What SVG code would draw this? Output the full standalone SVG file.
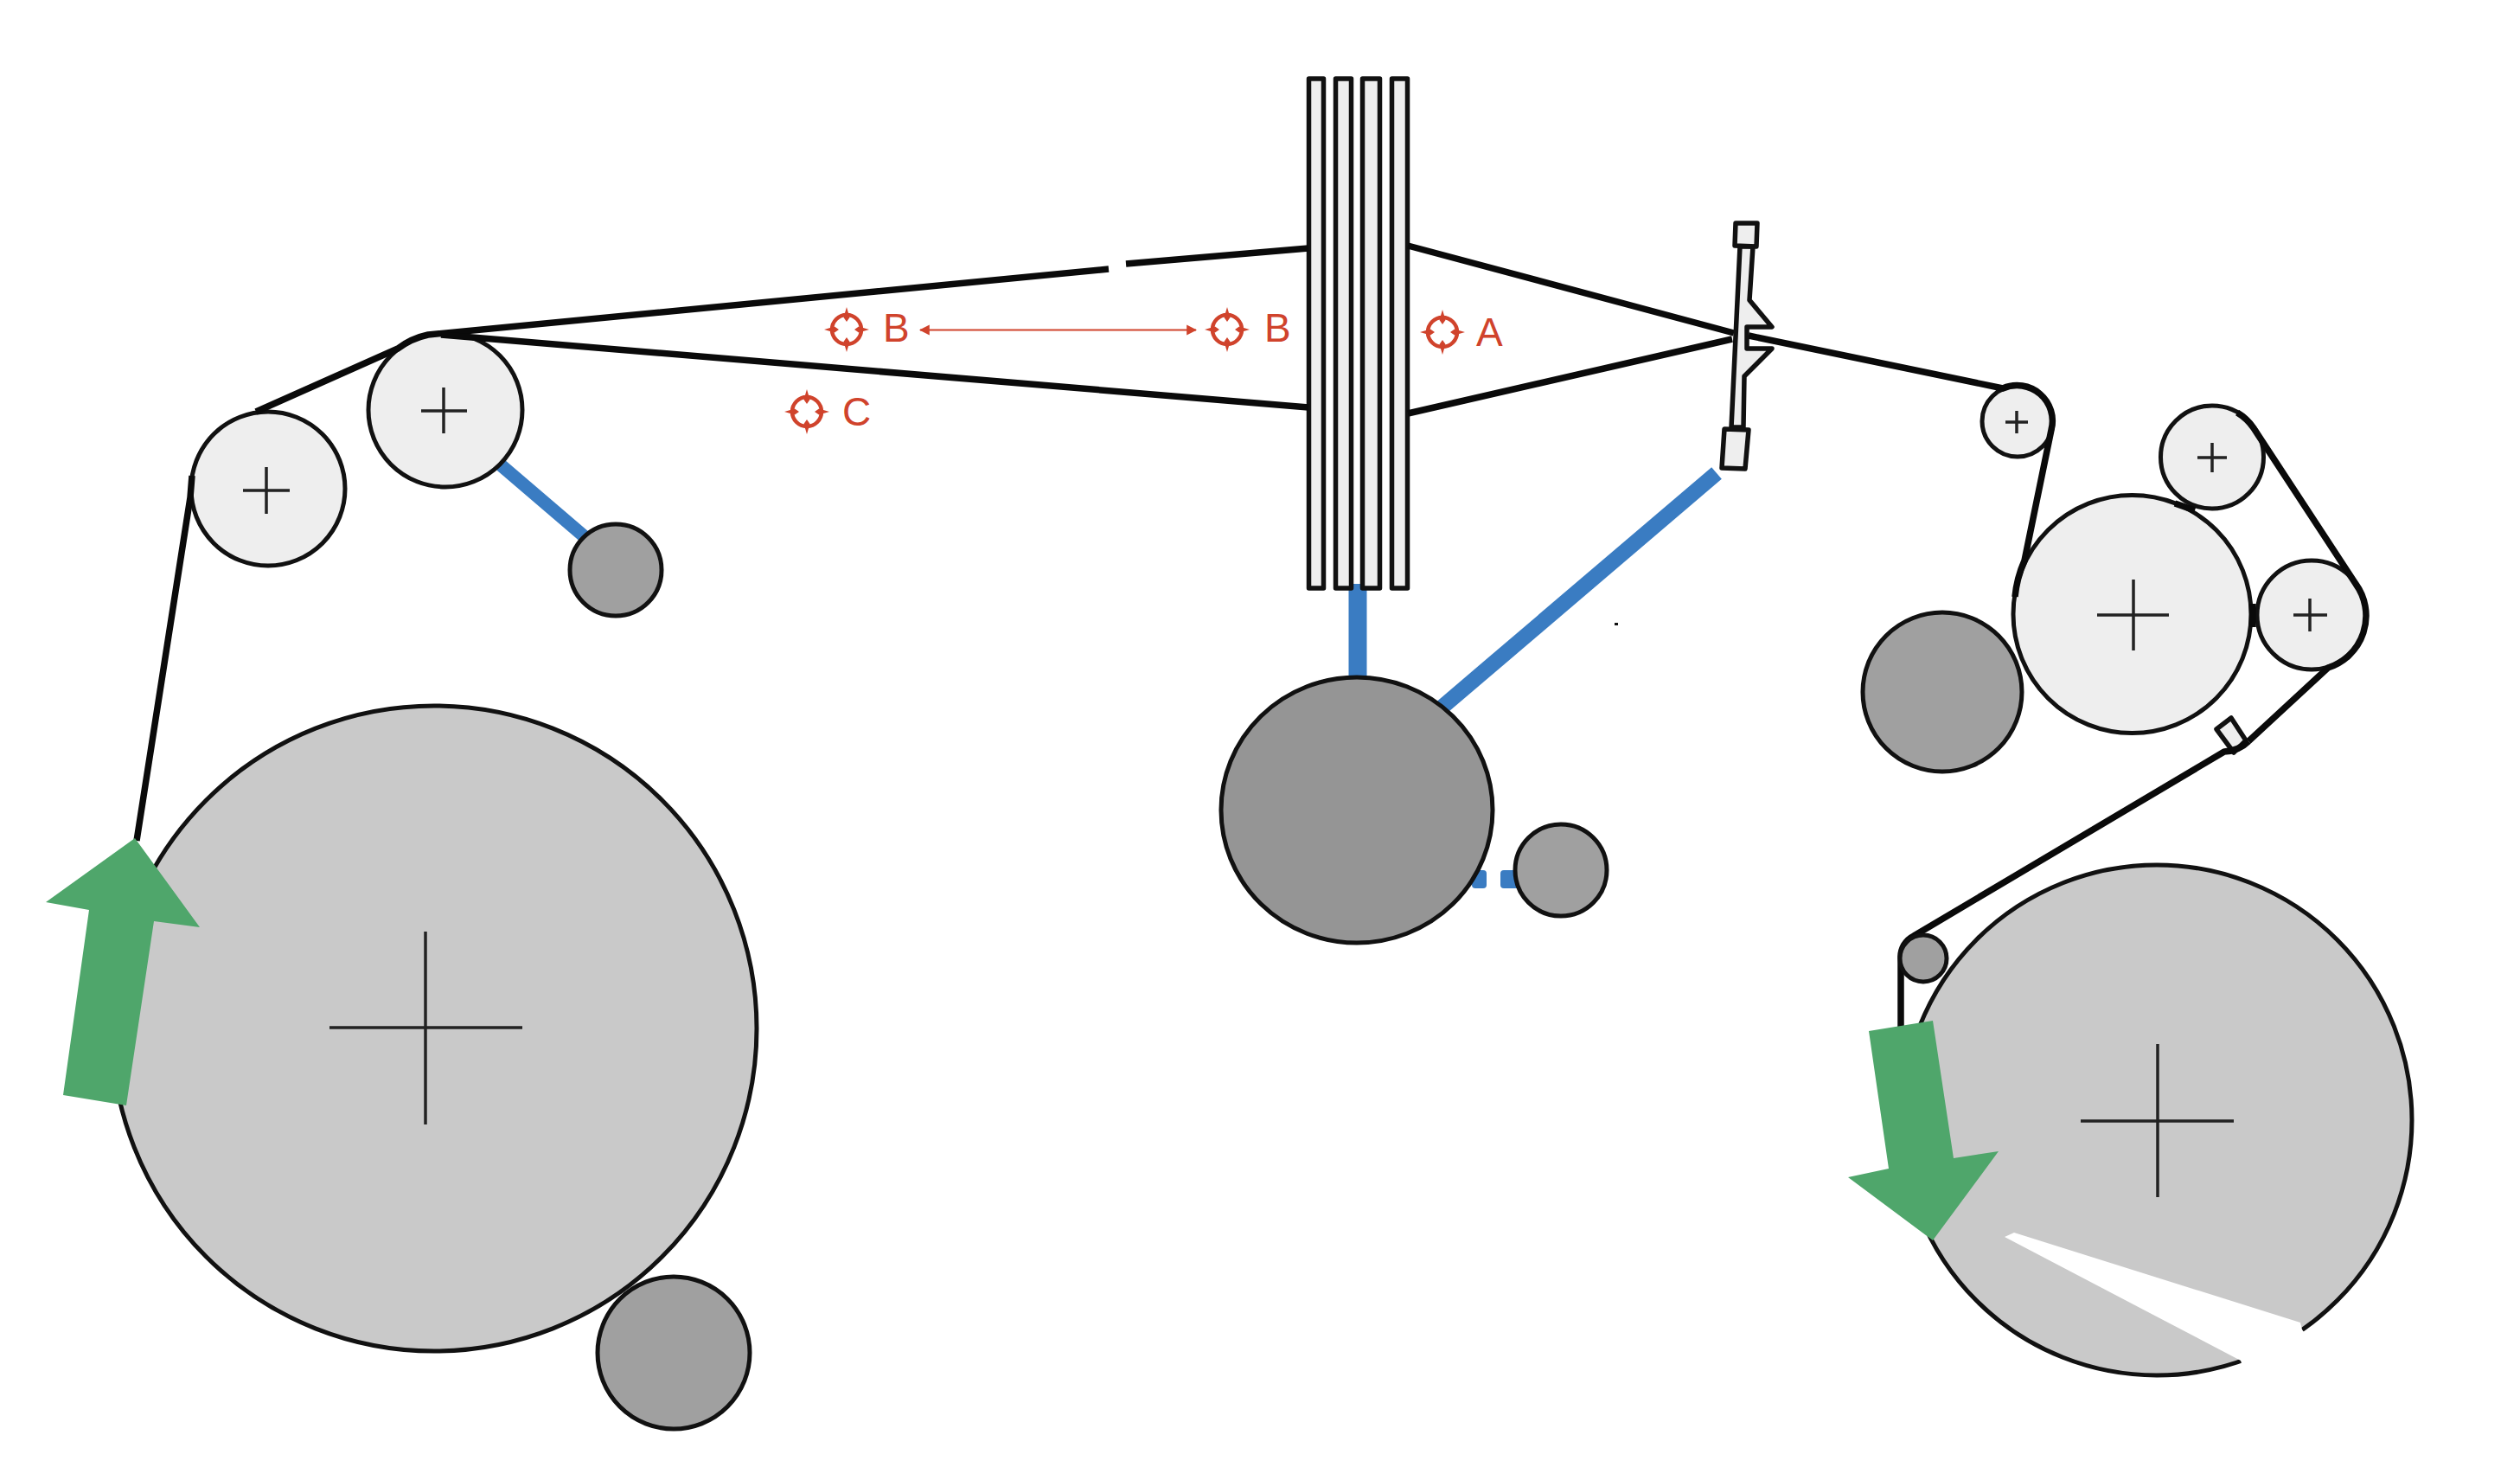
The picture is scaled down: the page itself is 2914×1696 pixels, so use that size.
<svg xmlns="http://www.w3.org/2000/svg" width="2914" height="1696" viewBox="0 0 2914 1696">
<defs>
<style>
.r{stroke:#111;stroke-width:5}
.l{fill:#eeeeee}.g{fill:#c9c9c9}.d{fill:#a0a0a0}.dd{fill:#959595}
.x{fill:none;stroke:#222;stroke-width:3.500}
.t{fill:none;stroke:#0a0a0a;stroke-width:7.500;stroke-linejoin:round}
.b{fill:none;stroke:#3a7cc2}
.a{fill:#4fa66b}
.m{fill:none;stroke:#d0432c;stroke-width:4.500}
.mf{fill:#d0432c}
.mt{fill:#d0432c;font-family:"Liberation Sans",Arial,sans-serif;font-size:46px}
.f{fill:#eeeeee;stroke:#111;stroke-width:5.500;stroke-linejoin:round}
</style>
<marker id="ah" viewBox="0 0 10 10" refX="9" refY="5" markerWidth="12" markerHeight="14" markerUnits="userSpaceOnUse" orient="auto-start-reverse"><path d="M0 0L10 5L0 10Z" fill="#d0432c"/></marker>
<g id="tgt"><circle r="17" class="m"/><path class="mf" d="M0-26L3.500-14L0-9L-3.500-14ZM0 26L3.500 14L0 9L-3.500 14ZM-26 0L-14 3.500L-9 0L-14-3.500ZM26 0L14 3.500L9 0L14-3.500Z"/></g>
</defs>
<rect width="2914" height="1696" fill="#fff"/>
<g id="supports">
<path class="b" stroke-width="15" d="M576 535L680 624"/>
<path class="b" stroke-width="21" d="M1570 675V786"/>
<path class="b" stroke-width="18" d="M1985 547L1667 818"/>
<rect x="1702" y="1006" width="17" height="21" rx="4" fill="#3a7cc2"/>
<rect x="1735" y="1006" width="25" height="21" rx="4" fill="#3a7cc2"/>
</g>
<g id="roll-left"><circle cx="502" cy="1189" r="373" class="r g"/><path class="x" d="M381 1188H604M492 1077V1300"/></g>
<g id="roll-left-small"><circle cx="779" cy="1564" r="88" class="r d"/></g>
<g id="guide-1"><circle cx="310" cy="565" r="89" class="r l"/><path class="x" d="M281 567H335M308 540V594"/></g>
<g id="guide-2"><circle cx="515" cy="474" r="89" class="r l"/><path class="x" d="M487 475H540M513 448V501"/></g>
<g id="tension"><circle cx="712" cy="659" r="53" class="r d"/></g>
<g id="harness">
<rect x="1513.500" y="91" width="17" height="589" class="f"/>
<rect x="1544.500" y="91" width="18" height="589" class="f"/>
<rect x="1575.500" y="91" width="20" height="589" class="f"/>
<rect x="1609.500" y="91" width="18" height="589" class="f"/>
</g>
<g id="cam"><ellipse cx="1569" cy="936.500" rx="157" ry="153.500" class="r dd"/></g>
<g id="cam-small"><circle cx="1805" cy="1006" r="53" class="r d"/></g>
<g id="press-dark"><circle cx="2246" cy="800" r="92" class="r d"/></g>
<g id="press-main"><circle cx="2465.500" cy="710" r="137.500" class="r l"/><path class="x" d="M2425 711H2508M2467 670V752"/></g>
<g id="press-top"><circle cx="2558" cy="528.500" r="59.500" class="r l"/><path class="x" d="M2541 529H2575M2558 512V546"/></g>
<g id="press-right"><circle cx="2673" cy="711" r="63" class="r l"/><path class="x" d="M2652 711H2691M2671 692V730"/></g>
<g id="press-small"><circle cx="2333" cy="487" r="41" class="r l"/><path class="x" d="M2319 488H2345M2332 475V501"/></g>
<g id="roll-right"><circle cx="2494" cy="1295" r="295" class="r g"/><path class="x" d="M2406 1296H2583M2495 1207V1384"/>
<path fill="#fff" d="M2318 1430L2329 1425L2660 1529L2662 1537L2720 1620L2606 1620L2593 1579L2591 1573Z"/></g>
<g id="threads">
<path class="t" d="M158 972L220 575L222 550"/>
<path class="t" d="M296 476L460 403A89 89 0 0 1 495 387L1282 311M1302 305L1513 287"/>
<path class="t" d="M510 387L1513 471"/>
<path class="t" d="M1628 284L2005 385M1628 478L2003 392"/>
<path class="t" d="M2022 388L2316 449A41 41 0 0 1 2372 497L2341 648A137.500 137.500 0 0 0 2330 690"/>
<path class="t" d="M2515 582L2538 590"/>
<path class="t" d="M2605 698V725"/>
<path class="t" d="M2587 477A59.500 59.500 0 0 1 2606 495L2724 675A63 63 0 0 1 2692 772L2600 857"/>
</g>
<g id="deflector"><path class="f" d="M2563 843L2580 830L2597 856L2583 870Z"/></g>
<path id="thread-lower" class="t" d="M2600 857Q2589 868 2572 869L2213 1082A27 27 0 0 0 2198 1108V1190"/>
<g id="reed">
<path class="f" d="M2012 285L2027 285L2023 347L2049 378L2020 378L2020 403L2049 403L2017 435L2016 494L2002 494Z"/>
<path class="f" d="M2007 258L2032 258L2031 285L2006 284Z"/>
<path class="f" d="M1994 496L2022 497L2018 542L1991 541Z"/>
</g>
<g id="small-guide"><circle cx="2224" cy="1108" r="27" class="r d"/></g>
<rect id="speck" x="1867" y="720" width="4" height="3" fill="#111"/>
<g id="arrow-in"><path class="a" d="M53 1043L156 969L231 1072L178 1065L146 1278L73 1266L103 1052Z"/></g>
<g id="arrow-out"><path class="a" d="M2161 1192L2235 1180L2259 1339L2311 1331L2235 1434L2137 1361L2184 1351Z"/></g>
<g id="marks">
<use href="#tgt" x="979" y="381"/><text class="mt" x="1021" y="395">B</text>
<use href="#tgt" x="1419" y="381"/><text class="mt" x="1462" y="395">B</text>
<use href="#tgt" x="1668" y="384"/><text class="mt" x="1707" y="400">A</text>
<use href="#tgt" x="933" y="476"/><text class="mt" x="974" y="492">C</text>
<path d="M1064 381.500H1383" stroke="#d0432c" stroke-width="2" fill="none" marker-start="url(#ah)" marker-end="url(#ah)"/>
</g>
</svg>
